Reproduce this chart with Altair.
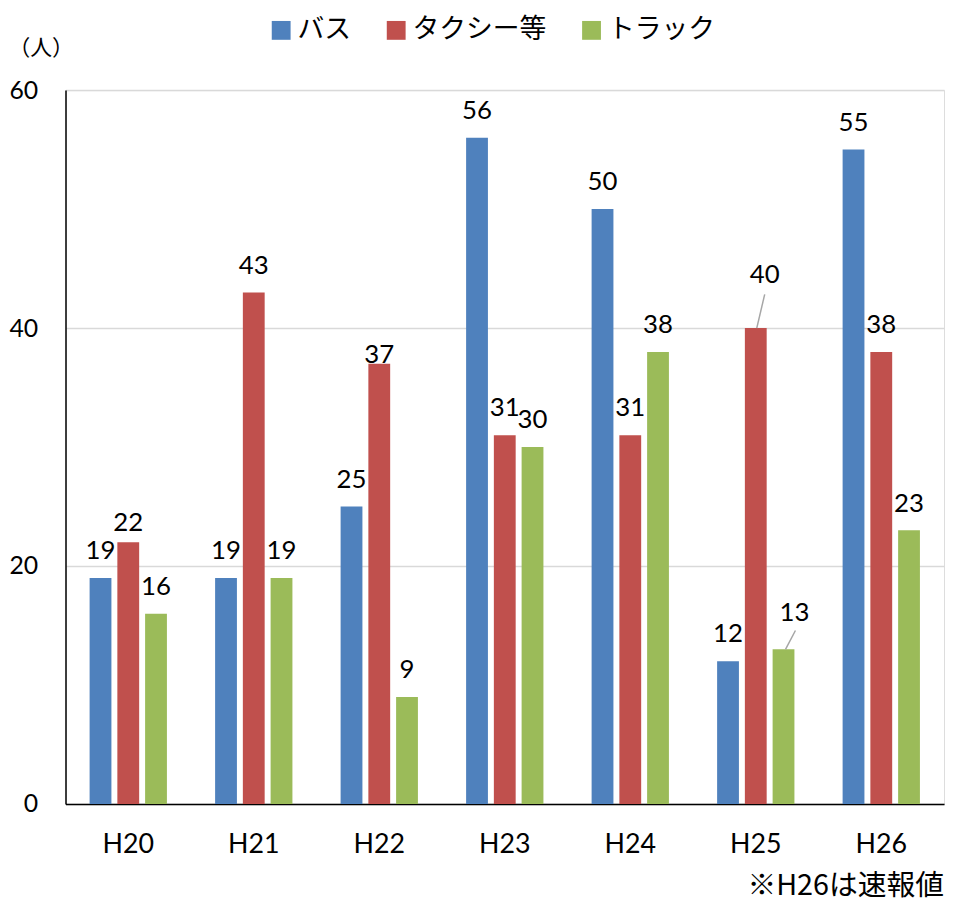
import altair as alt
import pandas as pd

years = ["H20", "H21", "H22", "H23", "H24", "H25", "H26"]
series = ["バス", "タクシー等", "トラック"]
bus = [19, 19, 25, 56, 50, 12, 55]
taxi = [22, 43, 37, 31, 31, 40, 38]
truck = [16, 19, 9, 30, 38, 13, 23]
colors = ["#4F81BD", "#C0504D", "#9BBB59"]
y_ticks = [0, 20, 40, 60]
unit_label = "（人）"
footnote = "※H26は速報値"

rows = []
for s, vals in zip(series, [bus, taxi, truck]):
    for yr, v in zip(years, vals):
        rows.append({"year": yr, "series": s, "value": v})
df = pd.DataFrame(rows)

W, H = 886, 720
JP = "Noto Sans CJK JP"
NUM = "Lato"

x_enc = alt.X(
    "year:N", sort=years,
    scale=alt.Scale(paddingInner=0.384, paddingOuter=0.192),
    axis=alt.Axis(title=None, labelAngle=0, labelFont=NUM, labelFontSize=27,
                  labelColor="black", labelPadding=28, ticks=False,
                  domainColor="black", domainWidth=1.5),
)
xoff_enc = alt.XOffset("series:N", sort=series,
                       scale=alt.Scale(paddingInner=0.214, paddingOuter=0))
y_enc = alt.Y(
    "value:Q",
    scale=alt.Scale(domain=[0, 60], nice=False),
    axis=alt.Axis(values=y_ticks, title=unit_label, titleAngle=0, titleAlign="left",
                  titleBaseline="middle", titleX=-58, titleY=-43, titleFont=JP,
                  titleFontSize=22, titleFontWeight="normal", titleColor="black",
                  labelFont=NUM, labelFontSize=25, labelColor="black",
                  labelAlign="right", labelBaseline="middle", labelPadding=28,
                  ticks=False, domainColor="black", domainWidth=1.5,
                  gridColor="#d9d9d9", gridWidth=1.5),
)

base = alt.Chart(df)

bars = base.mark_bar().encode(
    x=x_enc, xOffset=xoff_enc, y=y_enc,
    color=alt.Color("series:N", sort=series,
                    scale=alt.Scale(domain=series, range=colors),
                    legend=alt.Legend(title=None, orient="none", legendX=204, legendY=-74,
                                      direction="horizontal", symbolType="square",
                                      symbolSize=361, symbolStrokeWidth=0,
                                      labelFont=JP, labelFontSize=27, labelColor="black",
                                      labelOffset=3, columnPadding=32, padding=0)),
)

special = {
    ("H25", "タクシー等"): (9, -45),
    ("H25", "トラック"): (11, -29),
    ("H22", "タクシー等"): (0, -1),
    ("H20", "タクシー等"): (0, -11),
}

def cond(yr, s):
    return f"datum.year == '{yr}' && datum.series == '{s}'"

normal_filter = " && ".join(f"!({cond(yr, s)})" for (yr, s) in special)

def text_layer(filt, dx, dy):
    return base.transform_filter(filt).mark_text(
        font=NUM, fontSize=26, color="black", baseline="alphabetic", dx=dx, dy=dy
    ).encode(x=alt.X("year:N", sort=years), xOffset=alt.XOffset("series:N", sort=series),
             y="value:Q", text="value:Q")

layers = [bars, text_layer(normal_filter, 0, -19)]
for (yr, s), (dx, dy) in special.items():
    layers.append(text_layer(cond(yr, s), dx, dy))

# leader lines for moved labels
leaders = {
    ("H25", "タクシー等"): (1, 9, -34),
    ("H25", "トラック"): (30, 40, -19),
}
for (yr, s), (xo, x2o, y2o) in leaders.items():
    layers.append(
        base.transform_filter(cond(yr, s)).mark_rule(
            color="#a6a6a6", strokeWidth=1.5, xOffset=xo, x2Offset=x2o, y2Offset=y2o
        ).encode(
            x=alt.X("year:N", sort=years, bandPosition=0.5),
            x2=alt.X2("year", bandPosition=0.5),
            y="value:Q", y2="value",
        )
    )

chart = alt.layer(*layers).properties(
    width=W, height=H,
    autosize=alt.AutoSizeParams(type="none"),
    padding={"left": 58, "top": 79, "right": 3, "bottom": 97},
    title=alt.TitleParams(footnote, orient="bottom", anchor="end", font=JP,
                          fontSize=29, fontWeight="normal", color="black", offset=15),
).configure_view(stroke=None).configure(background="white")

chart.save("out.html", embed_options={"renderer": "svg", "actions": False})
